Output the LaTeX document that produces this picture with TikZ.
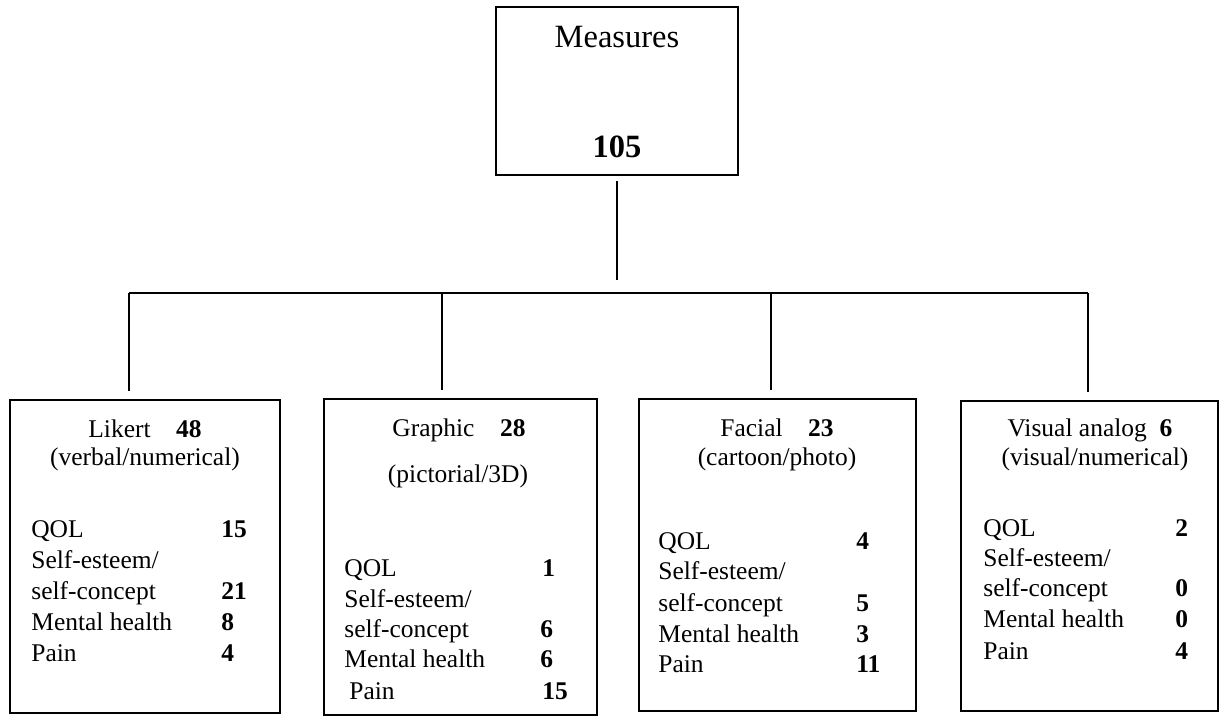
\documentclass[tikz,border=0pt]{standalone}
\usepackage{fontspec}
\setmainfont{Liberation Serif}

\begin{document}
\begin{tikzpicture}[
  box/.style={draw, line width=1.5pt, inner sep=0pt},
  link/.style={line width=1.4pt},
  txt/.style={inner sep=0pt, font=\fontsize{14.5}{17}\selectfont},
  lbl/.style={txt, anchor=base west},
  num/.style={txt, anchor=base west, font=\fontsize{14.5}{17}\selectfont\bfseries},
  ttl/.style={txt, anchor=base},
  big/.style={inner sep=0pt, anchor=base, font=\fontsize{18.5}{22}\selectfont}]
  \useasboundingbox (0,0) rectangle (24.64,14.32);

  % Top: all measures
  \node[box, minimum width=4.84cm, minimum height=3.36cm] (measures) at (12.34,12.5) {};
  \node[big] (measures-t) at (12.34,13.36) {Measures};
  \node[big, font=\fontsize{18.5}{22}\selectfont\bfseries] (measures-n) at (12.34,11.16) {105};

  % Likert
  \node[box, minimum width=5.4cm, minimum height=6.26cm] (likert) at (2.9,3.19) {};
  \node[ttl] (likert-t) at (2.9,5.56) {Likert\quad\textbf{48}};
  \node[ttl] (likert-s) at (2.9,5.0) {(verbal/numerical)};
  \node[lbl] (likert-qol) at (0.62,3.56) {QOL};
  \node[num] (likert-qol-n) at (4.42,3.56) {15};
  \node[lbl] (likert-se) at (0.62,2.94) {Self-esteem/};
  \node[lbl] (likert-sc) at (0.62,2.32) {self-concept};
  \node[num] (likert-sc-n) at (4.42,2.32) {21};
  \node[lbl] (likert-mh) at (0.62,1.70) {Mental health};
  \node[num] (likert-mh-n) at (4.42,1.70) {8};
  \node[lbl] (likert-pain) at (0.62,1.08) {Pain};
  \node[num] (likert-pain-n) at (4.42,1.08) {4};

  % Graphic
  \node[box, minimum width=5.46cm, minimum height=6.32cm] (graphic) at (9.21,3.18) {};
  \node[ttl] (graphic-t) at (9.18,5.58) {Graphic\quad\textbf{28}};
  \node[ttl] (graphic-s) at (9.16,4.66) {(pictorial/3D)};
  \node[lbl] (graphic-qol) at (6.88,2.78) {QOL};
  \node[num] (graphic-qol-n) at (10.84,2.78) {1};
  \node[lbl] (graphic-se) at (6.88,2.16) {Self-esteem/};
  \node[lbl] (graphic-sc) at (6.88,1.56) {self-concept};
  \node[num] (graphic-sc-n) at (10.8,1.56) {6};
  \node[lbl] (graphic-mh) at (6.88,0.96) {Mental health};
  \node[num] (graphic-mh-n) at (10.8,0.96) {6};
  \node[lbl] (graphic-pain) at (6.98,0.32) {Pain};
  \node[num] (graphic-pain-n) at (10.84,0.32) {15};

  % Facial
  \node[box, minimum width=5.54cm, minimum height=6.24cm] (facial) at (15.55,3.22) {};
  \node[ttl] (facial-t) at (15.54,5.58) {Facial\quad\textbf{23}};
  \node[ttl] (facial-s) at (15.54,5.0) {(cartoon/photo)};
  \node[lbl] (facial-qol) at (13.16,3.32) {QOL};
  \node[num] (facial-qol-n) at (17.12,3.32) {4};
  \node[lbl] (facial-se) at (13.16,2.72) {Self-esteem/};
  \node[lbl] (facial-sc) at (13.16,2.08) {self-concept};
  \node[num] (facial-sc-n) at (17.12,2.08) {5};
  \node[lbl] (facial-mh) at (13.16,1.46) {Mental health};
  \node[num] (facial-mh-n) at (17.12,1.46) {3};
  \node[lbl] (facial-pain) at (13.16,0.86) {Pain};
  \node[num] (facial-pain-n) at (17.12,0.86) {11};

  % Visual analog
  \node[box, minimum width=5.14cm, minimum height=6.2cm] (visual) at (21.79,3.2) {};
  \node[ttl] (visual-t) at (21.8,5.58) {Visual analog\enspace\textbf{6}};
  \node[ttl] (visual-s) at (21.9,5.0) {(visual/numerical)};
  \node[lbl] (visual-qol) at (19.66,3.58) {QOL};
  \node[num] (visual-qol-n) at (23.5,3.58) {2};
  \node[lbl] (visual-se) at (19.66,2.98) {Self-esteem/};
  \node[lbl] (visual-sc) at (19.66,2.38) {self-concept};
  \node[num] (visual-sc-n) at (23.5,2.38) {0};
  \node[lbl] (visual-mh) at (19.66,1.76) {Mental health};
  \node[num] (visual-mh-n) at (23.5,1.76) {0};
  \node[lbl] (visual-pain) at (19.66,1.12) {Pain};
  \node[num] (visual-pain-n) at (23.5,1.12) {4};

  % Branches
  \coordinate (j1) at (2.58,8.46);
  \coordinate (j2) at (8.84,8.46);
  \coordinate (j3) at (15.42,8.46);
  \coordinate (j4) at (21.76,8.46);
  \draw[link, shorten <=0.1cm, shorten >=0.26cm] (measures.south) -- (measures.south |- j1);
  \draw[link] (j1) -- (j4);
  \draw[link, shorten >=0.16cm] (j1) -- (j1 |- likert.north);
  \draw[link, shorten >=0.16cm] (j2) -- (j2 |- graphic.north);
  \draw[link, shorten >=0.16cm] (j3) -- (j3 |- facial.north);
  \draw[link, shorten >=0.16cm] (j4) -- (j4 |- visual.north);
\end{tikzpicture}
\end{document}
